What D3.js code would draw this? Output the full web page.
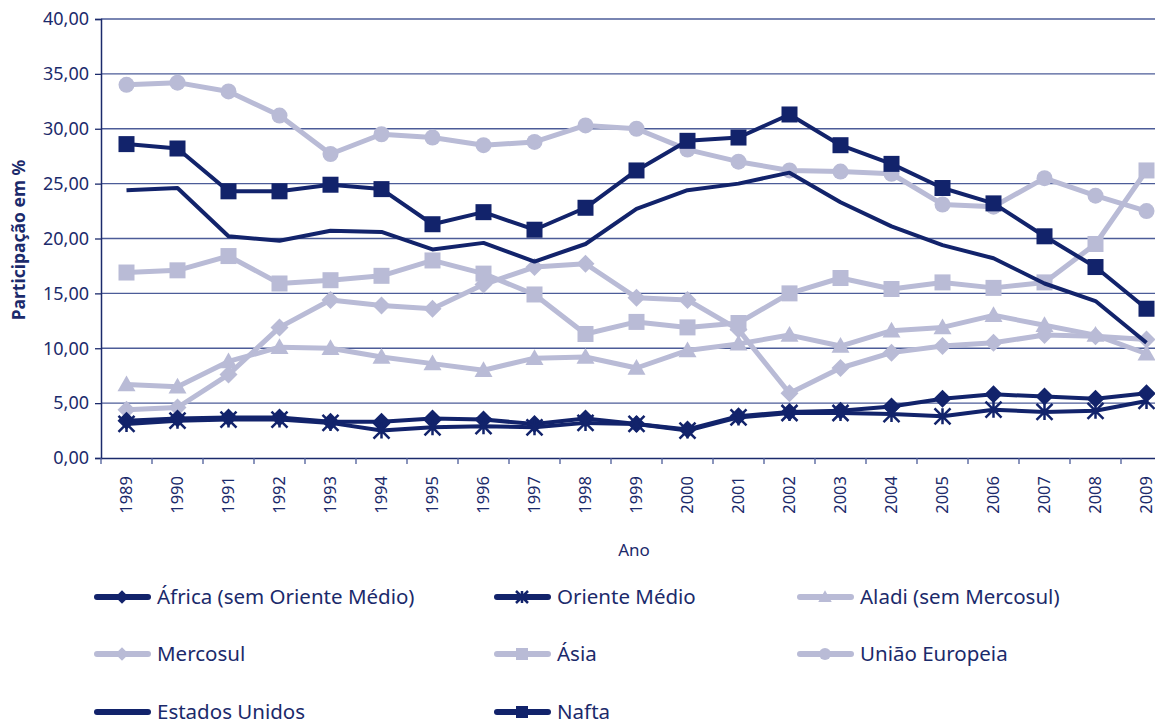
<!DOCTYPE html>
<html>
<head>
<meta charset="utf-8">
<script src="https://cdn.jsdelivr.net/npm/d3@7"></script>
<style>
  body { margin: 0; background: #fff; }
  text { font-family: "Noto Sans", sans-serif; fill: #1b2a6b; }
</style>
</head>
<body>
<div id="chart"></div>
<script>
// Data
var years = ["1989","1990","1991","1992","1993","1994","1995","1996","1997","1998","1999",
  "2000","2001","2002","2003","2004","2005","2006","2007","2008","2009"];
var yTicks = [0, 5, 10, 15, 20, 25, 30, 35, 40];

var africa = [3.4,3.6,3.7,3.7,3.3,3.3,3.6,3.5,3.1,3.6,3.1,2.6,3.8,4.2,4.3,4.7,5.4,5.8,5.6,5.4,5.9];
var orienteMedio = [3.1,3.4,3.5,3.5,3.2,2.5,2.8,2.9,2.8,3.2,3.1,2.5,3.7,4.1,4.1,4.0,3.8,4.4,4.2,4.3,5.2];
var aladi = [6.7,6.5,8.8,10.1,10.0,9.2,8.6,8.0,9.1,9.2,8.2,9.8,10.4,11.2,10.2,11.6,11.9,13.0,12.1,11.2,9.5];
var mercosul = [4.4,4.6,7.6,11.9,14.4,13.9,13.6,15.8,17.4,17.7,14.6,14.4,11.7,5.9,8.2,9.6,10.2,10.5,11.2,11.1,10.8];
var asia = [16.9,17.1,18.4,15.9,16.2,16.6,18.0,16.8,14.9,11.3,12.4,11.9,12.3,15.0,16.4,15.4,16.0,15.5,16.0,19.5,26.2];
var uniaoEuropeia = [34.0,34.2,33.4,31.2,27.7,29.5,29.2,28.5,28.8,30.3,30.0,28.1,27.0,26.2,26.1,25.9,23.1,22.9,25.5,23.9,22.5];
var estadosUnidos = [24.4,24.6,20.2,19.8,20.7,20.6,19.0,19.6,17.9,19.5,22.7,24.4,25.0,26.0,23.3,21.1,19.4,18.2,15.9,14.3,10.5];
var nafta = [28.6,28.2,24.3,24.3,24.9,24.5,21.3,22.4,20.8,22.8,26.2,28.9,29.2,31.3,28.5,26.8,24.6,23.2,20.2,17.4,13.6];

var dark = "#12236b", light = "#b9bbd6";

var series = [
  {name: "África (sem Oriente Médio)", values: africa, color: dark, shape: "diamond", lw: 4},
  {name: "Oriente Médio", values: orienteMedio, color: dark, shape: "asterisk", lw: 4},
  {name: "Aladi (sem Mercosul)", values: aladi, color: light, shape: "triangle", lw: 5},
  {name: "Mercosul", values: mercosul, color: light, shape: "diamond", lw: 5},
  {name: "Ásia", values: asia, color: light, shape: "square", lw: 5},
  {name: "União Europeia", values: uniaoEuropeia, color: light, shape: "circle", lw: 5},
  {name: "Estados Unidos", values: estadosUnidos, color: dark, shape: "none", lw: 4},
  {name: "Nafta", values: nafta, color: dark, shape: "square", lw: 4}
];

// drawing order (light lines behind dark ones)
var drawOrder = [5, 4, 3, 2, 6, 7, 0, 1];

var svgWidth = 1155, svgHeight = 724;
var margin = {top: 19, left: 101};
var plotRight = 1172, plotBottom = 458;

var svg = d3.select("#chart").append("svg")
  .attr("width", svgWidth)
  .attr("height", svgHeight);

var x = d3.scaleBand().domain(years).range([margin.left, plotRight]);
var y = d3.scaleLinear().domain([0, 40]).range([plotBottom, margin.top]);

// gridlines
svg.append("g").selectAll("line")
  .data(yTicks.filter(d => d > 0))
  .enter().append("line")
  .attr("x1", margin.left).attr("x2", svgWidth)
  .attr("y1", d => y(d)).attr("y2", d => y(d))
  .attr("stroke", "#4c5c98").attr("stroke-width", 1.3);

// y axis
var yAxis = svg.append("g")
  .attr("transform", `translate(${margin.left},0)`)
  .call(d3.axisLeft(y).tickValues(yTicks).tickSize(6).tickPadding(6)
    .tickFormat(d => d3.format(".2f")(d).replace(".", ",")));
yAxis.select(".domain").attr("stroke", "#1b2a6b").attr("stroke-width", 1.5);
yAxis.selectAll(".tick line").attr("stroke", "#1b2a6b").attr("stroke-width", 1.3);
yAxis.selectAll("text").style("font-size", "18px").attr("fill", "#1b2a6b");

// x axis
var xAxis = svg.append("g")
  .attr("transform", `translate(0,${plotBottom})`)
  .call(d3.axisBottom(x).tickSize(0).tickPadding(0));
xAxis.select(".domain").attr("stroke", "#1b2a6b").attr("stroke-width", 1.5);
xAxis.selectAll("text")
  .attr("transform", "rotate(-90)")
  .attr("text-anchor", "end")
  .attr("dy", "0.35em")
  .attr("x", -18)
  .attr("y", 0)
  .style("font-size", "16.5px").attr("fill", "#1b2a6b");
// ticks at band boundaries
svg.append("g").selectAll("line")
  .data(years.concat(["end"]))
  .enter().append("line")
  .attr("x1", (d, i) => margin.left + i * x.step())
  .attr("x2", (d, i) => margin.left + i * x.step())
  .attr("y1", plotBottom).attr("y2", plotBottom + 6)
  .attr("stroke", "#4c5c98").attr("stroke-width", 1.3);

// axis titles
svg.append("text")
  .attr("x", 634).attr("y", 556)
  .attr("text-anchor", "middle")
  .style("font-size", "17px")
  .text("Ano");

svg.append("text")
  .attr("transform", "translate(25,240) rotate(-90)")
  .attr("text-anchor", "middle")
  .style("font-size", "17.5px")
  .style("font-weight", "bold")
  .text("Participação em %");

function drawMarker(g, shape, color, cx, cy, scale) {
  var s = scale || 1;
  if (shape === "square") {
    g.append("rect").attr("x", cx - 8 * s).attr("y", cy - 8 * s)
      .attr("width", 16 * s).attr("height", 16 * s).attr("fill", color);
  } else if (shape === "circle") {
    g.append("circle").attr("cx", cx).attr("cy", cy).attr("r", 8 * s).attr("fill", color);
  } else if (shape === "diamond") {
    var r = 9 * s;
    g.append("path")
      .attr("d", `M${cx},${cy - r}L${cx + r},${cy}L${cx},${cy + r}L${cx - r},${cy}Z`)
      .attr("fill", color);
  } else if (shape === "triangle") {
    var t = 9 * s;
    g.append("path")
      .attr("d", `M${cx},${cy - t}L${cx + t},${cy + t * 0.75}L${cx - t},${cy + t * 0.75}Z`)
      .attr("fill", color);
  } else if (shape === "asterisk") {
    var a = 8 * s;
    g.append("path")
      .attr("d", `M${cx - a},${cy - a}L${cx + a},${cy + a}M${cx - a},${cy + a}L${cx + a},${cy - a}M${cx},${cy - a}L${cx},${cy + a}`)
      .attr("stroke", color).attr("stroke-width", 2.5).attr("fill", "none");
  }
}

var line = d3.line()
  .x((d, i) => x(years[i]) + x.bandwidth() / 2)
  .y(d => y(d));

drawOrder.forEach(function(k) {
  var s = series[k];
  var g = svg.append("g");
  g.append("path")
    .datum(s.values)
    .attr("d", line)
    .attr("fill", "none")
    .attr("stroke", s.color)
    .attr("stroke-width", s.lw)
    .attr("stroke-linejoin", "round");
  s.values.forEach(function(v, i) {
    drawMarker(g, s.shape, s.color, x(years[i]) + x.bandwidth() / 2, y(v));
  });
});

// legend
var legendCols = [97, 497, 800];
var legendRows = [597, 654, 712];
series.forEach(function(s, i) {
  var lx = legendCols[i % 3], ly = legendRows[Math.floor(i / 3)];
  var g = svg.append("g");
  g.append("line")
    .attr("x1", lx).attr("x2", lx + 51)
    .attr("y1", ly).attr("y2", ly)
    .attr("stroke", s.color).attr("stroke-width", 6).attr("stroke-linecap", "round");
  drawMarker(g, s.shape, s.color, lx + 25, ly, 0.75);
  g.append("text")
    .attr("x", lx + 60).attr("y", ly)
    .attr("dy", "0.35em")
    .style("font-size", "20.5px")
    .text(s.name);
});
</script>
</body>
</html>
